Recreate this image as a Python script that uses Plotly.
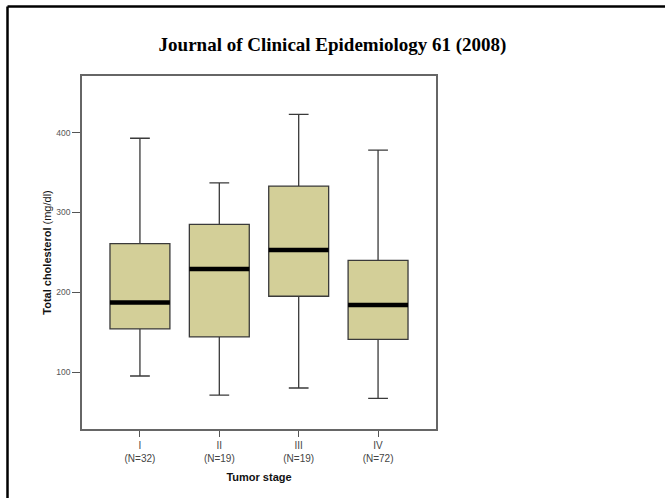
import plotly.graph_objects as go

stages = ["I", "II", "III", "IV"]
counts = [32, 19, 19, 72]
lower_whisker = [95, 71, 80, 67]
q1 = [154, 144, 195, 141]
median = [187, 229, 253, 184]
q3 = [261, 285, 333, 240]
upper_whisker = [393, 337, 423, 378]
y_ticks = [100, 200, 300, 400]

W, H = 665, 498
L, R, T, B = 82, 436, 76, 429
box_w = 0.755
pos = list(range(len(stages)))

fig = go.Figure()
fig.add_trace(go.Box(
    x=pos, q1=q1, median=median, q3=q3,
    lowerfence=lower_whisker, upperfence=upper_whisker,
    width=box_w, whiskerwidth=0.33, boxpoints=False,
    fillcolor="#d3cf98", line=dict(color="#3a3a3a", width=1.3),
    showlegend=False, hoverinfo="skip",
))

mx, my = [], []
for p, m in zip(pos, median):
    mx += [p - box_w / 2, p + box_w / 2, None]
    my += [m, m, None]
fig.add_trace(go.Scatter(x=mx, y=my, mode="lines",
                         line=dict(color="black", width=4.5),
                         showlegend=False, hoverinfo="skip"))

def px_to_paper_x(px):
    return (px - L) / (R - L)

def px_to_paper_y(py):
    return (B - py) / (B - T)

# slide frame (top and left edges)
fig.add_shape(type="line", xref="paper", yref="paper",
              x0=px_to_paper_x(7.5), x1=px_to_paper_x(W + 5),
              y0=px_to_paper_y(6.5), y1=px_to_paper_y(6.5),
              line=dict(color="black", width=2.5))
fig.add_shape(type="line", xref="paper", yref="paper",
              x0=px_to_paper_x(7.5), x1=px_to_paper_x(7.5),
              y0=px_to_paper_y(6.5), y1=px_to_paper_y(H + 5),
              line=dict(color="black", width=2.5))

fig.update_layout(
    width=W, height=H,
    margin=dict(l=L, r=W - R, t=T, b=H - B, pad=0),
    paper_bgcolor="white", plot_bgcolor="white",
    font=dict(family="Liberation Sans, Arial, sans-serif", color="#333"),
    title=dict(text="<b>Journal of Clinical Epidemiology 61 (2008)</b>",
               x=0.5, xanchor="center", xref="container", y=1 - 44 / H, yanchor="middle",
               yref="container",
               font=dict(family="Liberation Serif, Times New Roman, serif", size=19, color="black")),
    xaxis=dict(range=[-0.73, 3.73], tickvals=pos,
               ticktext=[f"{s}<br>(N={n})" for s, n in zip(stages, counts)],
               showline=True, linecolor="#666", linewidth=1.5, mirror=True,
               ticks="outside", ticklen=6, tickcolor="#555", showgrid=False, zeroline=False,
               tickfont=dict(size=10, color="#444"),
               title=dict(text="<b>Tumor stage</b>", font=dict(size=11, color="#111"), standoff=11)),
    yaxis=dict(range=[28.6, 471], tickvals=y_ticks,
               showline=True, linecolor="#666", linewidth=1.5, mirror=True,
               ticks="outside", ticklen=8, tickcolor="#555", showgrid=False, zeroline=False,
               tickfont=dict(size=8.5, color="#555"),
               title=dict(text="<b>Total cholesterol</b> (mg/dl)", font=dict(size=11, color="#111"), standoff=3)),
)

fig.write_html("out.html")
